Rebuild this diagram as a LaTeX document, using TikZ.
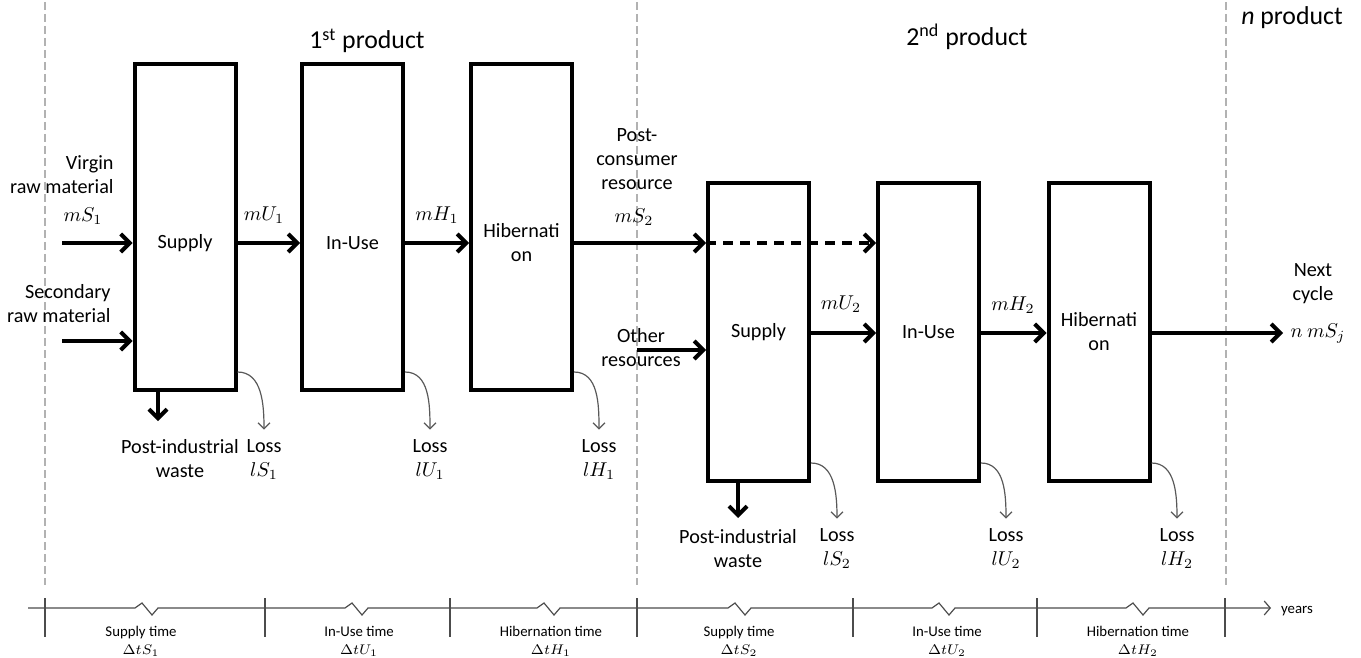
\documentclass[tikz,border=0pt]{standalone}
\usepackage{fontspec}
\setmainfont{Carlito}
\usetikzlibrary{arrows.meta}
\begin{document}
\begin{tikzpicture}[
            x=0.5pt, y=-0.5pt,
            font=\fontsize{10.1}{12}\selectfont,
            prodbox/.style={draw, line width=2pt, minimum width=50.5pt, inner sep=0pt},
            rowone/.style={prodbox, minimum height=163pt},
            rowtwo/.style={prodbox, minimum height=149pt},
            boxtext/.style={align=center, inner sep=0pt},
            txt/.style={align=center, inner sep=1pt},
            title/.style={font=\fontsize{12.9}{15}\selectfont},
            flow/.style={line width=2pt, -{Straight Barb[length=4.5pt, width=9pt, line width=2pt]}},
            loss/.style={draw=black!65, line width=0.6pt, -{Straight Barb[length=3pt, width=6pt, line width=0.6pt]}},
            divider/.style={draw=black!30, line width=0.6pt, dash pattern=on 4pt off 2pt},
            axis/.style={draw=black!70, line width=0.6pt},
            timetext/.style={align=center, inner sep=0pt, font=\fontsize{7.4}{9}\selectfont}
          ]
          \useasboundingbox (0,0) rectangle (1361,658);
          \foreach \d in {45,637,1226} { \draw[divider] (\d,2) -- (\d,585); }
          \node[title] (t1) at (367,41) {1\textsuperscript{st} product};
          \node[title] (t2) at (967,37) {2\textsuperscript{nd} product};
          \node[title] (tn) at (1292,18) {\textit{n} product};
          \node[rowone, label={[boxtext, yshift=-8pt]center:Supply}] (sup1) at (185,227) {};
          \node[rowone, label={[boxtext, yshift=-8pt]center:In-Use}] (use1) at (352.5,227) {};
          \node[rowone, label={[boxtext, yshift=-8pt]center:Hibernati\\on}] (hib1) at (521.5,227) {};
          \node[rowtwo, label={[boxtext]center:Supply}] (sup2) at (758.5,332) {};
          \node[rowtwo, label={[boxtext]center:In-Use}] (use2) at (928.5,332) {};
          \node[rowtwo, label={[boxtext]center:Hibernati\\on}] (hib2) at (1099,332) {};
          \node[txt, align=right, anchor=east] (vir) at (116,174.5) {Virgin\\raw material};
          \node[txt, align=right, anchor=east] (sec) at (113,303.5) {Secondary\\raw material};
          \node[txt] (pcr) at (637,159) {Post-\\consumer\\resource};
          \node[txt] (oth) at (641,347.5) {Other\\resources};
          \node[txt] (nxc) at (1313,283.5) {Next\\cycle};
          \node[txt] (ms1) at (83,216) {$mS_1$};
          \node[txt] (mu1) at (264,215) {$mU_1$};
          \node[txt] (mh1) at (437,215) {$mH_1$};
          \node[txt] (ms2) at (634,217) {$mS_2$};
          \node[txt] (mu2) at (841,304) {$mU_2$};
          \node[txt] (mh2) at (1013,305) {$mH_2$};
          \node[txt] (nms) at (1318,334) {$n\ mS_j$};
          \coordinate (r1) at (0,243);
          \coordinate (r2) at (0,333);
          \coordinate (vin) at (62,243);
          \coordinate (sin) at (62,341);
          \coordinate (oin) at (637,350);
          \coordinate (nout) at (1283,333);
          \draw[flow] (vin) -- (vin -| sup1.west);
          \draw[flow] (sin) -- (sin -| sup1.west);
          \draw[flow] (sup1.east |- r1) -- (use1.west |- r1);
          \draw[flow] (use1.east |- r1) -- (hib1.west |- r1);
          \draw[flow] (hib1.east |- r1) -- (sup2.west |- r1);
          \draw[flow, dash pattern=on 5pt off 3.5pt] (sup2.west |- r1) -- (use2.west |- r1);
          \draw[flow] (oin) -- (oin -| sup2.west);
          \draw[flow] (sup2.east |- r2) -- (use2.west |- r2);
          \draw[flow] (use2.east |- r2) -- (hib2.west |- r2);
          \draw[flow] (hib2.east |- r2) -- (nout);
          \node[txt] (piw1) at (180,458.5) {Post-industrial\\waste};
          \node[txt] (piw2) at (738,549) {Post-industrial\\waste};
          \coordinate (pw1) at (158,421);
          \coordinate (pw2) at (738,518);
          \draw[flow] (pw1 |- sup1.south) -- (pw1);
          \draw[flow] (pw2 |- sup2.south) -- (pw2);
          \node[txt] (ls1) at (264,460) {Loss\\$lS_1$};
          \node[txt] (lu1) at (430,460) {Loss\\$lU_1$};
          \node[txt] (lh1) at (599,460) {Loss\\$lH_1$};
          \node[txt] (ls2) at (837,549) {Loss\\$lS_2$};
          \node[txt] (lu2) at (1006,549) {Loss\\$lU_2$};
          \node[txt] (lh2) at (1177,549) {Loss\\$lH_2$};
          \draw[loss] ([yshift=10pt]sup1.south east) to[out=0, in=90] ([yshift=4pt]ls1.north);
          \draw[loss] ([yshift=10pt]use1.south east) to[out=0, in=90] ([yshift=4pt]lu1.north);
          \draw[loss] ([yshift=10pt]hib1.south east) to[out=0, in=90] ([yshift=4pt]lh1.north);
          \draw[loss] ([yshift=10pt]sup2.south east) to[out=0, in=90] ([yshift=4pt]ls2.north);
          \draw[loss] ([yshift=10pt]use2.south east) to[out=0, in=90] ([yshift=4pt]lu2.north);
          \draw[loss] ([yshift=10pt]hib2.south east) to[out=0, in=90] ([yshift=4pt]lh2.north);
          \draw[axis, -{Straight Barb[length=3pt, width=7pt, line width=0.6pt]}] (28,608)
            \foreach \m in {147,357,549,740,944,1138} { -- (\m-12,608) -- (\m-5,603) -- (\m+5,615) -- (\m+11,608) }
            -- (1271,608);
          \foreach \t in {45,265,450,637,853,1037,1225} { \draw[axis] (\t,598) -- (\t,637); }
          \node[timetext] (yrs) at (1297,611) {years};
          \node[timetext] (ts1) at (141,641) {Supply time\\$\Delta tS_1$};
          \node[timetext] (tu1) at (359,641) {In-Use time\\$\Delta tU_1$};
          \node[timetext] (th1) at (551,641) {Hibernation time\\$\Delta tH_1$};
          \node[timetext] (ts2) at (739,641) {Supply time\\$\Delta tS_2$};
          \node[timetext] (tu2) at (947,641) {In-Use time\\$\Delta tU_2$};
          \node[timetext] (th2) at (1138,641) {Hibernation time\\$\Delta tH_2$};
        \end{tikzpicture}
\end{document}
